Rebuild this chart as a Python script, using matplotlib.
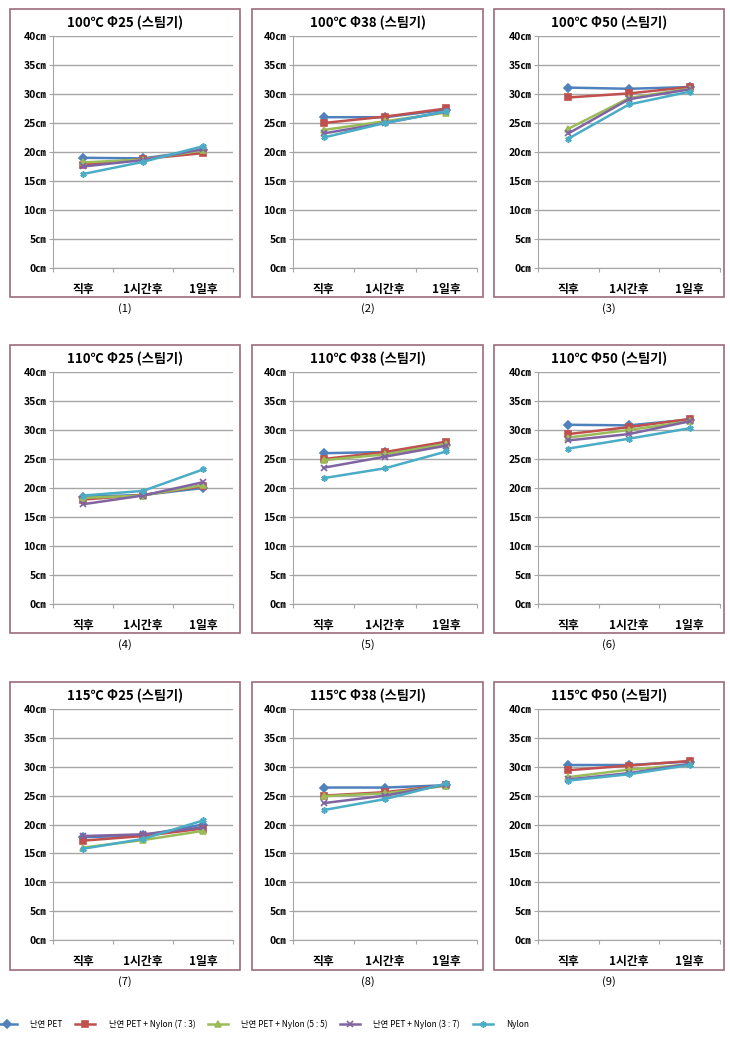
import matplotlib
matplotlib.use("Agg")
import matplotlib.pyplot as plt
from matplotlib.patches import Rectangle

plt.rcParams['font.family'] = ['Noto Sans CJK KR', 'DejaVu Sans']

categories = ["직후", "1시간후", "1일후"]
yticks = [0, 5, 10, 15, 20, 25, 30, 35, 40]
ytick_labels = [f"{v}㎝" for v in yticks]

series_names = ["난연 PET", "난연 PET + Nylon (7 : 3)", "난연 PET + Nylon (5 : 5)",
                "난연 PET + Nylon (3 : 7)", "Nylon"]
series_colors = ["#4F81BD", "#C0504D", "#9BBB59", "#8064A2", "#4BACC6"]
series_markers = ["D", "s", "^", "x", (6, 2, 0)]

titles = ["100℃ Φ25 (스팀기)", "100℃ Φ38 (스팀기)", "100℃ Φ50 (스팀기)",
          "110℃ Φ25 (스팀기)", "110℃ Φ38 (스팀기)", "110℃ Φ50 (스팀기)",
          "115℃ Φ25 (스팀기)", "115℃ Φ38 (스팀기)", "115℃ Φ50 (스팀기)"]
captions = ["(1)", "(2)", "(3)", "(4)", "(5)", "(6)", "(7)", "(8)", "(9)"]

# values per panel: [PET, 7:3, 5:5, 3:7, Nylon]
p1 = [[19.0, 18.9, 20.3], [17.8, 18.8, 19.8], [18.2, 18.7, 20.3], [17.5, 18.6, 20.5], [16.2, 18.3, 21.0]]
p2 = [[26.0, 26.0, 27.3], [25.0, 26.1, 27.5], [23.8, 25.3, 26.8], [23.2, 25.0, 27.0], [22.5, 25.0, 27.0]]
p3 = [[31.1, 30.9, 31.2], [29.4, 30.1, 31.2], [24.0, 29.3, 30.9], [23.2, 29.1, 30.8], [22.3, 28.2, 30.4]]
p4 = [[18.5, 18.8, 20.0], [18.0, 18.8, 20.3], [18.3, 18.7, 20.5], [17.2, 18.7, 21.0], [18.7, 19.5, 23.2]]
p5 = [[26.0, 26.2, 27.5], [25.0, 26.2, 28.0], [24.8, 25.8, 27.6], [23.5, 25.4, 27.3], [21.7, 23.4, 26.3]]
p6 = [[30.9, 30.8, 31.8], [29.3, 30.5, 31.9], [28.7, 30.0, 31.5], [28.2, 29.3, 31.5], [26.8, 28.5, 30.3]]
p7 = [[17.8, 18.1, 20.0], [17.2, 18.0, 19.3], [16.0, 17.3, 18.9], [18.0, 18.3, 19.5], [15.8, 17.5, 20.7]]
p8 = [[26.4, 26.4, 26.8], [25.0, 25.6, 26.8], [24.9, 25.4, 26.7], [23.7, 25.0, 26.9], [22.5, 24.4, 27.1]]
p9 = [[30.3, 30.3, 30.9], [29.4, 30.2, 31.0], [28.2, 29.5, 30.4], [27.8, 28.9, 30.5], [27.6, 28.7, 30.3]]
panels = [p1, p2, p3, p4, p5, p6, p7, p8, p9]

W, H = 730, 1041
fig = plt.figure(figsize=(W / 100, H / 100), dpi=100)

col_axes = [(53, 233), (293, 477), (538, 720)]
col_frames = [(10, 240), (252, 483), (494, 724)]
row_axes = [(36, 268), (372, 604), (709, 940)]
row_frames = [(9, 297), (345, 633), (682, 970)]

handles = []
for i, vals in enumerate(panels):
    r, c = divmod(i, 3)
    x0, x1 = col_axes[c]
    yt, yb = row_axes[r]
    fx0, fx1 = col_frames[c]
    fyt, fyb = row_frames[r]
    fig.patches.append(Rectangle((fx0 / W, 1 - fyb / H), (fx1 - fx0) / W, (fyb - fyt) / H,
                                 transform=fig.transFigure, fill=False,
                                 edgecolor="#9C6B7A", linewidth=1.2))
    ax = fig.add_axes([x0 / W, 1 - yb / H, (x1 - x0) / W, (yb - yt) / H])
    xs = list(range(len(categories)))
    for k, s in enumerate(vals):
        ln, = ax.plot(xs, s, color=series_colors[k], marker=series_markers[k],
                      markersize=4.5, linewidth=1.8, markeredgewidth=1.2,
                      markeredgecolor=series_colors[k], label=series_names[k])
        if i == 0:
            handles.append(ln)
    ax.set_xlim(-0.5, 2.5)
    ax.set_ylim(0, 40)
    ax.set_yticks(yticks)
    ax.set_yticklabels(ytick_labels, fontsize=7.5, fontweight='bold')
    ax.yaxis.grid(True, color="#A6A6A6", linewidth=1.0)
    ax.set_axisbelow(True)
    ax.set_xticks([-0.5, 0.5, 1.5, 2.5])
    ax.set_xticklabels([])
    ax.set_xticks(xs, minor=True)
    ax.set_xticklabels(categories, minor=True, fontsize=8.5, fontweight='bold')
    ax.tick_params(axis='x', which='minor', length=0, pad=11)
    ax.tick_params(axis='x', which='major', length=3, color="#A6A6A6", direction='out')
    ax.tick_params(axis='y', length=3, color="#A6A6A6", pad=2)
    for sp in ['top', 'right']:
        ax.spines[sp].set_visible(False)
    for sp in ['left', 'bottom']:
        ax.spines[sp].set_color("#A6A6A6")
    fig.text((fx0 + fx1) / 2 / W, 1 - (fyt + 14) / H, titles[i], ha='center', va='center',
             fontsize=9.5, fontweight='bold')
    fig.text((fx0 + fx1) / 2 / W, 1 - (fyb + 12) / H, captions[i], ha='center', va='center',
             fontsize=8)

fig.legend(handles=handles, labels=series_names, loc='center left',
           bbox_to_anchor=(-0.004, 1 - 1024 / H), ncol=5, frameon=False,
           fontsize=6, handlelength=2.4, handletextpad=1.6, columnspacing=1.5,
           borderaxespad=0, borderpad=0)

fig.savefig("out.png", dpi=100)
